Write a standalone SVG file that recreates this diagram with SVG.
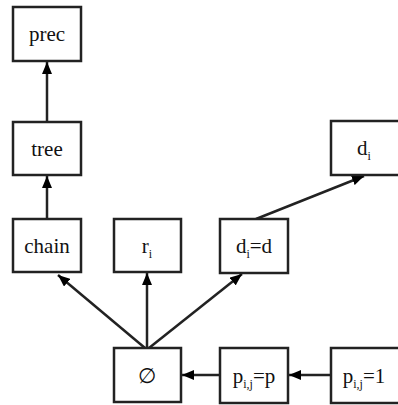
<svg xmlns="http://www.w3.org/2000/svg" width="398" height="405" viewBox="0 0 398 405">
<defs>
<marker id="ah" viewBox="0 0 12 10" refX="12" refY="5" markerWidth="12" markerHeight="10" markerUnits="userSpaceOnUse" orient="auto">
<path d="M0,0 L12,5 L0,10 Z" fill="#000"/>
</marker>
<style>
.box{fill:#fff;stroke:#222;stroke-width:2.5}
.lbl{font-family:"Liberation Serif","Times New Roman",serif;font-size:21px;fill:#111;text-anchor:middle}
.sub{font-size:12px}
.edge{stroke:#222;stroke-width:2.5;fill:none;marker-end:url(#ah)}
</style>
</defs>
<rect width="398" height="405" fill="#fff"/>
<g id="connectors">
<line class="edge" x1="47" y1="122" x2="47" y2="62"/>
<line class="edge" x1="47" y1="219" x2="47" y2="176"/>
<line class="edge" x1="145" y1="348" x2="58" y2="275"/>
<line class="edge" x1="147" y1="348" x2="147" y2="273"/>
<line class="edge" x1="149" y1="348" x2="242" y2="274"/>
<line class="edge" x1="256" y1="219" x2="364" y2="176"/>
<line class="edge" x1="220" y1="375" x2="182" y2="375"/>
<line class="edge" x1="332" y1="375" x2="289" y2="375"/>
</g>
<g id="prec"><rect class="box" x="13" y="7" width="68" height="54"/><text class="lbl" x="47" y="41">prec</text></g>
<g id="tree"><rect class="box" x="13" y="122" width="68" height="53"/><text class="lbl" x="47" y="156">tree</text></g>
<g id="chain"><rect class="box" x="13" y="219" width="68" height="53"/><text class="lbl" x="47" y="253">chain</text></g>
<g id="ri"><rect class="box" x="114" y="219" width="67" height="53"/><text class="lbl" x="147" y="253">r<tspan class="sub" dy="5">i</tspan></text></g>
<g id="di_eq_d"><rect class="box" x="220" y="219" width="68" height="54"/><text class="lbl" x="254" y="253">d<tspan class="sub" dy="5">i</tspan><tspan dy="-5">=d</tspan></text></g>
<g id="di"><rect class="box" x="331" y="121" width="70" height="54"/><text class="lbl" x="364" y="155">d<tspan class="sub" dy="5">i</tspan></text></g>
<g id="empty"><rect class="box" x="114" y="348" width="67" height="54"/><text class="lbl" x="147" y="383">∅</text></g>
<g id="pij_eq_p"><rect class="box" x="220" y="348" width="68" height="55"/><text class="lbl" x="254" y="383">p<tspan class="sub" dy="5">i,j</tspan><tspan dy="-5">=p</tspan></text></g>
<g id="pij_eq_1"><rect class="box" x="331" y="348" width="70" height="55"/><text class="lbl" x="364" y="383">p<tspan class="sub" dy="5">i,j</tspan><tspan dy="-5">=1</tspan></text></g>
</svg>
